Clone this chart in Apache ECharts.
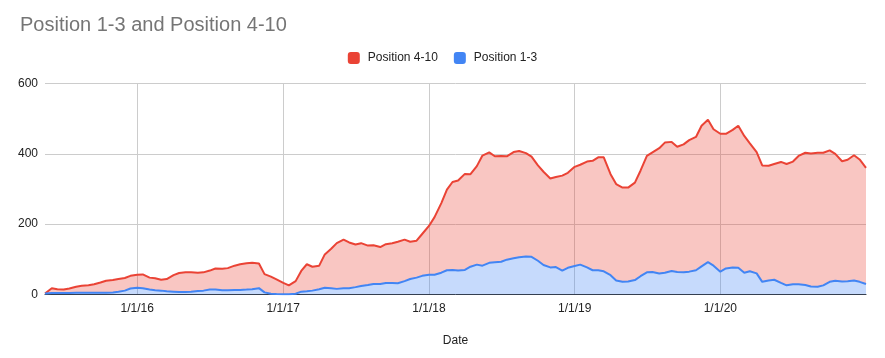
<!DOCTYPE html>
<html>
<head>
<meta charset="utf-8">
<script src="https://cdn.jsdelivr.net/npm/echarts@6/dist/echarts.min.js"></script>
<style>
html,body{margin:0;padding:0;background:#fff;}
#chart{width:885px;height:358px;}
</style>
</head>
<body>
<div id="chart"></div>
<script>
const dates = [
'2015-05-15','2015-06-01','2015-06-15','2015-07-01','2015-07-15','2015-08-01','2015-08-15','2015-09-01','2015-09-15','2015-10-01','2015-10-15','2015-11-01','2015-11-15','2015-12-01','2015-12-15',
'2016-01-01','2016-01-15','2016-02-01','2016-02-15','2016-03-01','2016-03-15','2016-04-01','2016-04-15','2016-05-01','2016-05-15','2016-06-01','2016-06-15','2016-07-01','2016-07-15','2016-08-01','2016-08-15','2016-09-01','2016-09-15','2016-10-01','2016-10-15','2016-11-01','2016-11-15','2016-12-01','2016-12-15',
'2017-01-01','2017-01-15','2017-02-01','2017-02-15','2017-03-01','2017-03-15','2017-04-01','2017-04-15','2017-05-01','2017-05-15','2017-06-01','2017-06-15','2017-07-01','2017-07-15','2017-08-01','2017-08-15','2017-09-01','2017-09-15','2017-10-01','2017-10-15','2017-11-01','2017-11-15','2017-12-01','2017-12-15',
'2018-01-01','2018-01-15','2018-02-01','2018-02-15','2018-03-01','2018-03-15','2018-04-01','2018-04-15','2018-05-01','2018-05-15','2018-06-01','2018-06-15','2018-07-01','2018-07-15','2018-08-01','2018-08-15','2018-09-01','2018-09-15','2018-10-01','2018-10-15','2018-11-01','2018-11-15','2018-12-01','2018-12-15',
'2019-01-01','2019-01-15','2019-02-01','2019-02-15','2019-03-01','2019-03-15','2019-04-01','2019-04-15','2019-05-01','2019-05-15','2019-06-01','2019-06-15','2019-07-01','2019-07-15','2019-08-01','2019-08-15','2019-09-01','2019-09-15','2019-10-01','2019-10-15','2019-11-01','2019-11-15','2019-12-01','2019-12-15',
'2020-01-01','2020-01-15','2020-02-01','2020-02-15','2020-03-01','2020-03-15','2020-04-01','2020-04-15','2020-05-01','2020-05-15','2020-06-01','2020-06-15','2020-07-01','2020-07-15','2020-08-01','2020-08-15','2020-09-01','2020-09-15','2020-10-01','2020-10-15','2020-11-01','2020-11-15','2020-12-01','2020-12-15','2020-12-31'
];

const position4to10 = [
3,18,15,14,17,22,25,26,29,34,39,41,44,47,53,
56,57,48,46,42,44,55,61,63,63,62,63,68,74,73,75,82,86,89,90,88,58,51,43,
33,26,38,67,86,79,82,114,130,146,156,148,142,146,139,140,135,143,146,150,156,150,153,172,
195,220,260,298,320,324,343,342,365,395,404,393,394,393,405,408,402,392,367,349,330,334,338,346,
363,369,378,380,390,390,342,314,304,304,318,352,394,404,416,432,434,420,427,439,448,480,497,470,
457,457,468,480,451,430,405,367,366,371,377,371,378,394,403,401,403,403,410,400,379,383,396,384,360
];

const position1to3 = [
3,4,4,4,4,5,5,5,5,5,5,6,8,11,17,
19,18,14,12,11,9,8,7,7,8,10,11,14,14,12,12,13,13,14,15,18,6,2,1.5,
1,0.5,2,8,9,11,15,19,18,16,18,18,21,24,27,30,30,33,33,32,38,44,48,53,
56,56,62,69,70,68,70,79,85,82,90,92,93,99,103,106,108,107,96,84,77,78,68,76,
81,85,77,69,69,66,55,40,36,37,41,52,63,64,60,62,67,64,63,65,69,80,92,82,
65,74,77,76,62,66,60,36,40,42,33,26,29,29,27,23,22,26,36,39,37,38,40,36,30
];

const xTickDates = ['2016-01-01','2017-01-01','2018-01-01','2019-01-01','2020-01-01'];
const yTicks = [0, 200, 400, 600];
const xRange = ['2015-05-15', '2020-12-31'];

function toTime(s) {
  const p = s.split('-').map(Number);
  return new Date(p[0], p[1] - 1, p[2]).getTime();
}

const xs = dates.map(toTime);
// rows are [value, time] so that the stacked dimension is the value (y) dimension
const blueRows = xs.map((t, i) => [position1to3[i], t]);
// Position 4-10 is drawn as a band stacked on Position 1-3, so its top edge lands on the Position 4-10 value.
const redRows = xs.map((t, i) => [position4to10[i] - position1to3[i], t]);
const tickTimes = xTickDates.map(toTime);

const FONT = 'Liberation Sans, Arial, sans-serif';
const chart = echarts.init(document.getElementById('chart'), null, { renderer: 'canvas' });

chart.setOption({
  animation: false,
  backgroundColor: '#ffffff',
  textStyle: { fontFamily: FONT },
  title: {
    text: 'Position 1-3 and Position 4-10',
    left: 15,
    top: 10,
    textStyle: { fontFamily: FONT, fontSize: 20, fontWeight: 'normal', color: '#757575' }
  },
  legend: {
    data: ['Position 4-10', 'Position 1-3'],
    top: 47,
    left: 'center',
    icon: 'roundRect',
    itemWidth: 12,
    itemHeight: 12,
    itemGap: 16,
    textStyle: { fontFamily: FONT, fontSize: 12, color: '#222222', padding: [0, 0, 0, 3] }
  },
  grid: { left: 45, right: 19, top: 83.5, bottom: 63.5, containLabel: false },
  xAxis: {
    type: 'value',
    min: toTime(xRange[0]),
    max: toTime(xRange[1]),
    name: 'Date',
    nameLocation: 'middle',
    nameGap: 40,
    nameTextStyle: { fontFamily: FONT, fontSize: 12, color: '#222222' },
    axisLine: { show: true, lineStyle: { color: '#333333', width: 1 } },
    axisTick: { show: false, customValues: tickTimes },
    axisLabel: {
      customValues: tickTimes,
      fontFamily: FONT, fontSize: 12, color: '#222222', margin: 8,
      formatter: function (v) {
        const d = new Date(v);
        return (d.getMonth() + 1) + '/' + d.getDate() + '/' + String(d.getFullYear()).slice(2);
      }
    },
    splitLine: { show: true, lineStyle: { color: '#cccccc', width: 1 } }
  },
  yAxis: {
    type: 'value',
    min: yTicks[0],
    max: yTicks[yTicks.length - 1],
    interval: 200,
    axisLine: { show: false },
    axisTick: { show: false },
    axisLabel: { fontFamily: FONT, fontSize: 12, color: '#222222', margin: 7 },
    splitLine: { show: true, lineStyle: { color: '#cccccc', width: 1 } }
  },
  series: [
    {
      name: 'Position 1-3',
      type: 'line',
      stack: 'area',
      dimensions: [{ name: 'val', type: 'float' }, { name: 'time', type: 'float' }],
      encode: { x: 'time', y: 'val' },
      data: blueRows,
      showSymbol: false,
      symbol: 'none',
      itemStyle: { color: '#4285f4' },
      lineStyle: { color: '#4285f4', width: 2 },
      areaStyle: { color: '#4285f4', opacity: 0.3 },
      z: 3
    },
    {
      name: 'Position 4-10',
      type: 'line',
      stack: 'area',
      dimensions: [{ name: 'val', type: 'float' }, { name: 'time', type: 'float' }],
      encode: { x: 'time', y: 'val' },
      data: redRows,
      showSymbol: false,
      symbol: 'none',
      itemStyle: { color: '#ea4335' },
      lineStyle: { color: '#ea4335', width: 2 },
      areaStyle: { color: '#ea4335', opacity: 0.3 },
      z: 2
    }
  ]
});
</script>
</body>
</html>
